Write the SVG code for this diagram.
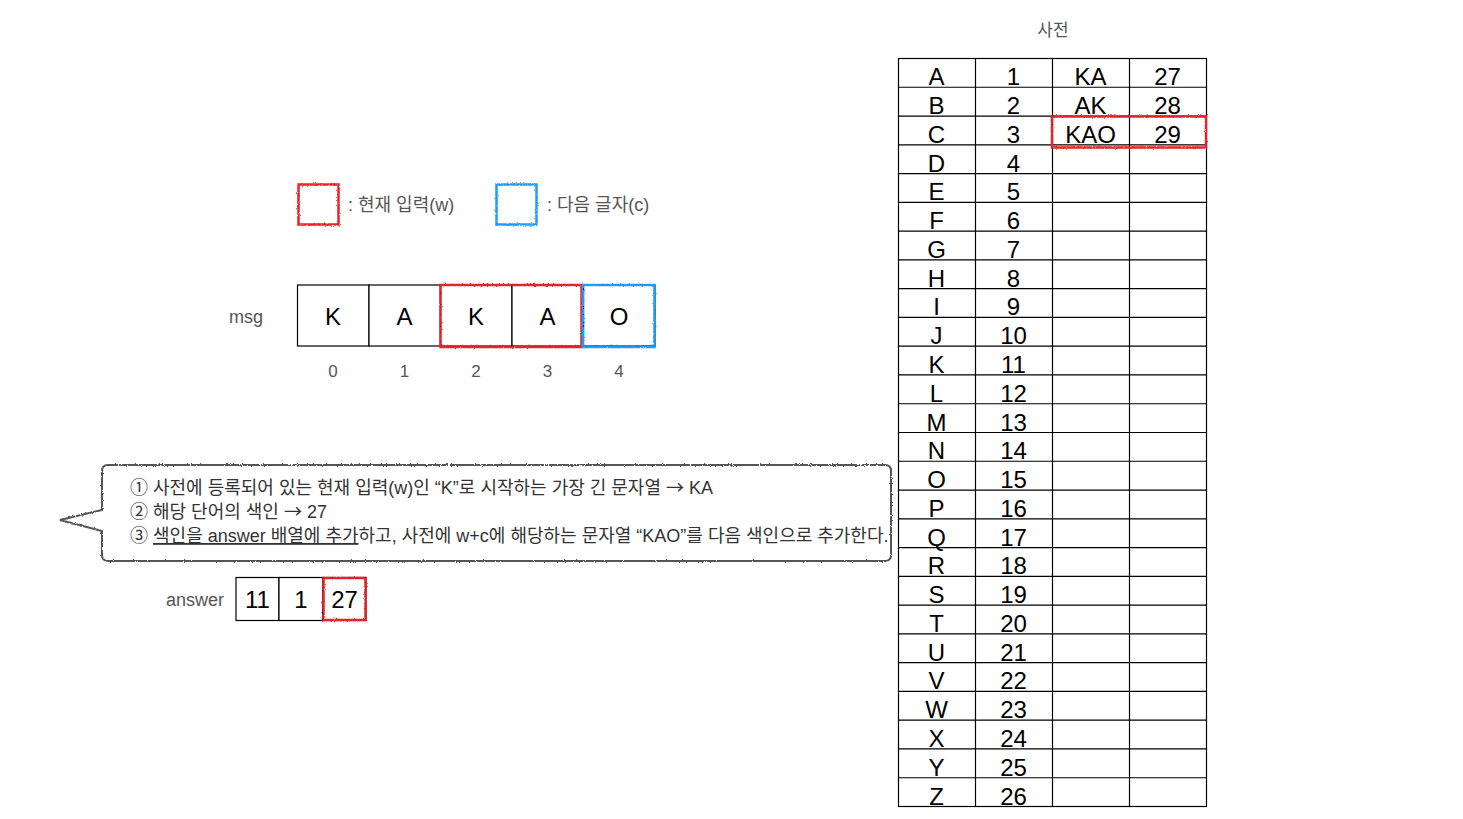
<svg xmlns="http://www.w3.org/2000/svg" width="1463" height="819" viewBox="0 0 1463 819">
<defs>
<filter id="rough" x="-10%" y="-10%" width="120%" height="120%">
<feTurbulence type="fractalNoise" baseFrequency="0.9" numOctaves="2" seed="3" result="n"/>
<feDisplacementMap in="SourceGraphic" in2="n" scale="2.5" xChannelSelector="R" yChannelSelector="G"/>
</filter>
<style>
.lbl{font-family:"Liberation Sans","Noto Sans CJK KR",sans-serif;fill:#555;}
.big{font-family:"Liberation Sans","Noto Sans CJK KR",sans-serif;fill:#000;font-size:24px;text-anchor:middle;}
.kr{font-family:"Liberation Sans","Noto Sans CJK KR",sans-serif;fill:#333;font-size:18px;}
.arr{font-family:"Noto Sans CJK KR",sans-serif;}
.cell{fill:#fff;stroke:#000;stroke-width:1.2;}
.red{fill:none;stroke:#e8242a;stroke-width:2.5;filter:url(#rough);}
.blue{fill:none;stroke:#1b9cff;stroke-width:2.5;filter:url(#rough);}
.grid{stroke:#000;stroke-width:1.2;fill:none;}
</style>
</defs>
<rect width="1463" height="819" fill="#fff"/>

<g id="legend">
<rect class="red" x="298.5" y="184.5" width="40" height="40"/>
<text class="lbl" x="348" y="211" font-size="18">: 현재 입력(w)</text>
<rect class="blue" x="496.5" y="184.5" width="40" height="40"/>
<text class="lbl" x="547" y="211" font-size="18">: 다음 글자(c)</text>
</g>

<g id="msg">
<text class="lbl" x="229" y="323" font-size="18">msg</text>
<rect class="cell" x="297.5" y="285" width="71.5" height="61"/>
<rect class="cell" x="369" y="285" width="71.5" height="61"/>
<rect class="cell" x="440.5" y="285" width="71.5" height="61"/>
<rect class="cell" x="512" y="285" width="71.5" height="61"/>
<rect class="cell" x="583.5" y="285" width="71.5" height="61"/>
<text class="big" x="333" y="325">K</text>
<text class="big" x="404.5" y="325">A</text>
<text class="big" x="476" y="325">K</text>
<text class="big" x="547.5" y="325">A</text>
<text class="big" x="619" y="325">O</text>
<g class="lbl" font-size="17" text-anchor="middle">
<text x="333" y="377">0</text>
<text x="404.5" y="377">1</text>
<text x="476" y="377">2</text>
<text x="547.5" y="377">3</text>
<text x="619" y="377">4</text>
</g>
<rect class="red" x="440.5" y="285" width="141" height="62"/>
<rect class="blue" x="583" y="285" width="71.5" height="62"/>
</g>

<g id="callout">
<path d="M108 465 H885 Q891 465 891 471 V555 Q891 561 885 561 H108 Q102 561 102 555 V531 L60 520 L102 510 V471 Q102 465 108 465 Z" fill="#fff" stroke="#555" stroke-width="2" filter="url(#rough)"/>
<text class="kr" x="130" y="494">① 사전에 등록되어 있는 현재 입력(w)인 “K”로 시작하는 가장 긴 문자열 <tspan class="arr">→</tspan> KA</text>
<text class="kr" x="130" y="518">② 해당 단어의 색인 <tspan class="arr">→</tspan> 27</text>
<text class="kr" x="130" y="542">③ <tspan text-decoration="underline">색인을 answer 배열에 추가</tspan>하고, 사전에 w+c에 해당하는 문자열 “KAO”를 다음 색인으로 추가한다.</text>
</g>

<g id="answer">
<text class="lbl" x="166" y="606" font-size="18">answer</text>
<rect class="cell" x="236" y="577.5" width="43" height="43"/>
<rect class="cell" x="279" y="577.5" width="44" height="43"/>
<rect class="cell" x="323" y="577.5" width="43" height="43"/>
<text class="big" x="257.5" y="608" font-size="26">11</text>
<text class="big" x="301" y="608" font-size="26">1</text>
<text class="big" x="344.5" y="608" font-size="26">27</text>
<rect class="red" x="323.5" y="578" width="42" height="42"/>
</g>

<g id="dictionary">
<text class="lbl" x="1053" y="36" font-size="17" text-anchor="middle">사전</text>
<rect class="grid" x="898.5" y="58.5" width="308" height="748"/>
<path class="grid" d="M975.5 58.5V806.5M1052.5 58.5V806.5M1129.5 58.5V806.5"/>
<path class="grid" d="M898.5 87.27H1206.5M898.5 116.04H1206.5M898.5 144.81H1206.5M898.5 173.58H1206.5M898.5 202.35H1206.5M898.5 231.12H1206.5M898.5 259.88H1206.5M898.5 288.65H1206.5M898.5 317.42H1206.5M898.5 346.19H1206.5M898.5 374.96H1206.5M898.5 403.73H1206.5M898.5 432.5H1206.5M898.5 461.27H1206.5M898.5 490.04H1206.5M898.5 518.81H1206.5M898.5 547.58H1206.5M898.5 576.35H1206.5M898.5 605.12H1206.5M898.5 633.88H1206.5M898.5 662.65H1206.5M898.5 691.42H1206.5M898.5 720.19H1206.5M898.5 748.96H1206.5M898.5 777.73H1206.5"/>
<g class="big">
<text x="936.5" y="85.3">A</text><text x="1013.5" y="85.3">1</text><text x="1090.5" y="85.3">KA</text><text x="1167.5" y="85.3">27</text>
<text x="936.5" y="114">B</text><text x="1013.5" y="114">2</text><text x="1090.5" y="114">AK</text><text x="1167.5" y="114">28</text>
<text x="936.5" y="142.8">C</text><text x="1013.5" y="142.8">3</text><text x="1090.5" y="142.8">KAO</text><text x="1167.5" y="142.8">29</text>
<text x="936.5" y="171.6">D</text><text x="1013.5" y="171.6">4</text>
<text x="936.5" y="200.4">E</text><text x="1013.5" y="200.4">5</text>
<text x="936.5" y="229.1">F</text><text x="1013.5" y="229.1">6</text>
<text x="936.5" y="257.9">G</text><text x="1013.5" y="257.9">7</text>
<text x="936.5" y="286.7">H</text><text x="1013.5" y="286.7">8</text>
<text x="936.5" y="315.4">I</text><text x="1013.5" y="315.4">9</text>
<text x="936.5" y="344.2">J</text><text x="1013.5" y="344.2">10</text>
<text x="936.5" y="373">K</text><text x="1013.5" y="373">11</text>
<text x="936.5" y="401.7">L</text><text x="1013.5" y="401.7">12</text>
<text x="936.5" y="430.5">M</text><text x="1013.5" y="430.5">13</text>
<text x="936.5" y="459.3">N</text><text x="1013.5" y="459.3">14</text>
<text x="936.5" y="488">O</text><text x="1013.5" y="488">15</text>
<text x="936.5" y="516.8">P</text><text x="1013.5" y="516.8">16</text>
<text x="936.5" y="545.6">Q</text><text x="1013.5" y="545.6">17</text>
<text x="936.5" y="574.3">R</text><text x="1013.5" y="574.3">18</text>
<text x="936.5" y="603.1">S</text><text x="1013.5" y="603.1">19</text>
<text x="936.5" y="631.9">T</text><text x="1013.5" y="631.9">20</text>
<text x="936.5" y="660.7">U</text><text x="1013.5" y="660.7">21</text>
<text x="936.5" y="689.4">V</text><text x="1013.5" y="689.4">22</text>
<text x="936.5" y="718.2">W</text><text x="1013.5" y="718.2">23</text>
<text x="936.5" y="747">X</text><text x="1013.5" y="747">24</text>
<text x="936.5" y="775.7">Y</text><text x="1013.5" y="775.7">25</text>
<text x="936.5" y="804.5">Z</text><text x="1013.5" y="804.5">26</text>
</g>
<rect class="red" x="1052" y="116.5" width="154" height="31"/>
</g>
</svg>
